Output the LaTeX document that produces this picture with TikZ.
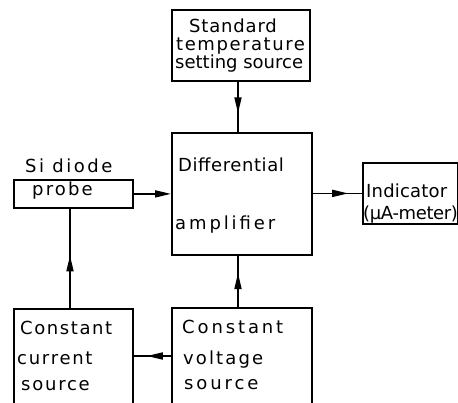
\documentclass[tikz,border=0pt]{standalone}
\usepackage{fontspec}
\setmainfont{DejaVu Sans}
\usetikzlibrary{arrows.meta,decorations.markings}
\newcommand\lsp[1]{\addfontfeatures{LetterSpace=#1}}
\begin{document}
\begin{tikzpicture}[x=1pt,y=-1pt,
  box/.style={draw,line width=1.8pt,rectangle,inner sep=0pt,anchor=north west},
  lbl/.style={anchor=base west,inner sep=0pt,font=\fontsize{18}{18}\selectfont},
  conn/.style={line width=1.7pt},
  tip/.style={-{Triangle[length=16pt,width=7pt]}},
  midarrow/.style={postaction={decorate},decoration={markings,mark=at position #1 with {\arrow{Triangle[length=16pt,width=7pt]}}}}
]
\useasboundingbox (0,0) rectangle (458,403);
\clip (0,0) rectangle (458,403);
% boxes
\node[box,minimum width=138pt,minimum height=71pt] (std) at (171,9) {};
\node[box,minimum width=140pt,minimum height=122pt] (amp) at (171,132) {};
\node[box,minimum width=119pt,minimum height=28pt] (probe) at (13,179) {};
\node[box,minimum width=95pt,minimum height=61pt] (ind) at (362,162) {};
\node[box,minimum width=119pt,minimum height=110pt] (cur) at (13,308) {};
\node[box,minimum width=140pt,minimum height=110pt] (volt) at (171,307) {};
% texts
\node[lbl] (t1) at (189,33) {\lsp{4.6}Standard};
\node[lbl] (t2) at (176,51) {\lsp{8.7}temperature};
\node[lbl] (t3) at (175,69) {setting source};
\node[lbl] (t4) at (25,173) {\lsp{14}Si diode};
\node[lbl] (t5) at (32,196) {\lsp{12}probe};
\node[lbl] (t6) at (178,172) {\lsp{3.2}Differential};
\node[lbl] (t7) at (175,230) {\lsp{16}amplifier};
\node[lbl] (t8) at (366,198) {\lsp{1}Indicator};
\node[lbl] (t9) at (363,220) {\lsp{-2}(µA-meter)};
\node[lbl] (t10) at (20,335) {\lsp{8.8}Constant};
\node[lbl] (t11) at (17,364) {\lsp{9.6}current};
\node[lbl] (t12) at (21,390) {\lsp{9.8}source};
\node[lbl] (t13) at (182,334) {\lsp{16}Constant};
\node[lbl] (t14) at (183,364) {\lsp{11.8}voltage};
\node[lbl] (t15) at (184,389) {\lsp{16}source};
% connectors
\coordinate (a1) at (238,80);
\coordinate (a2) at (238,132);
\coordinate (b1) at (238,307);
\coordinate (b2) at (238,254);
\coordinate (c1) at (70,308);
\coordinate (c2) at (70,207);
\coordinate (d1) at (171,356);
\coordinate (d2) at (132,356);
\draw[conn,midarrow=0.64] (a1) -- (a2);
\draw[conn,midarrow=0.64] (b1) -- (b2);
\draw[conn,midarrow=0.52] (c1) -- (c2);
\draw[conn,midarrow=0.62] (d1) -- (d2);
\draw[conn,tip] (probe.east) -- (amp.west |- probe.east);
\draw[conn,midarrow=0.72] (amp.east |- ind.west) -- (ind.west);
\end{tikzpicture}
\end{document}
